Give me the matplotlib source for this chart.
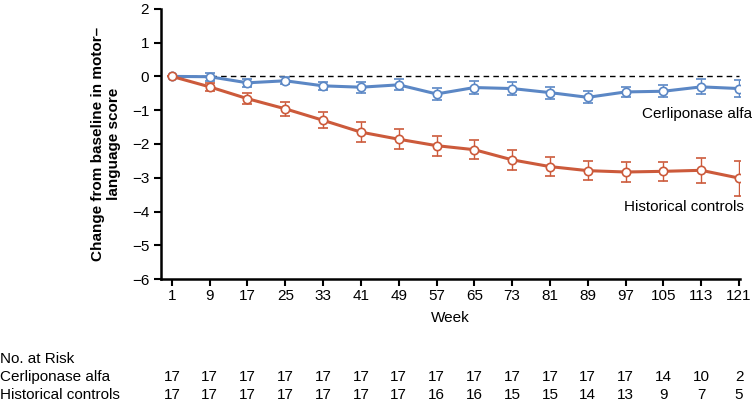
import numpy as np
import matplotlib.pyplot as plt
from matplotlib.transforms import blended_transform_factory

plt.rcParams['font.family'] = ['Liberation Sans', 'DejaVu Sans']

# data
weeks = [1, 9, 17, 25, 33, 41, 49, 57, 65, 73, 81, 89, 97, 105, 113, 121]
cerl_mean = [0, -0.01, -0.19, -0.13, -0.28, -0.32, -0.25, -0.52, -0.33, -0.36,
             -0.48, -0.62, -0.46, -0.44, -0.31, -0.36]
cerl_err = [0, 0.12, 0.11, 0.10, 0.11, 0.16, 0.16, 0.19, 0.18, 0.19,
            0.18, 0.18, 0.16, 0.18, 0.22, 0.25]
hist_mean = [0, -0.31, -0.66, -0.96, -1.30, -1.65, -1.86, -2.05, -2.17, -2.47,
             -2.67, -2.79, -2.83, -2.81, -2.78, -3.01]
hist_err = [0, 0.11, 0.16, 0.20, 0.24, 0.29, 0.30, 0.30, 0.29, 0.30,
            0.29, 0.29, 0.30, 0.28, 0.37, 0.52]
cerl_risk = [17, 17, 17, 17, 17, 17, 17, 17, 17, 17, 17, 17, 17, 14, 10, 2]
hist_risk = [17, 17, 17, 17, 17, 17, 17, 16, 16, 15, 15, 14, 13, 9, 7, 5]

blue = '#5b87c5'
red = '#cc5a3b'
fs = 11

fig = plt.figure(figsize=(7.52, 4.01), dpi=100)
ax = fig.add_axes([0.2141, 0.304, 0.984 - 0.2141, 0.978 - 0.304])

ax.plot([1, 121], [0, 0], color='black', ls=(0, (4, 3)), lw=1, zorder=1)

for mean, err, col, z in [(cerl_mean, cerl_err, blue, 2), (hist_mean, hist_err, red, 3)]:
    ax.errorbar(weeks, mean, yerr=err, color=col, lw=2.2, elinewidth=1,
                capsize=3.5, capthick=1, marker='o', ms=6, mfc='white',
                mec=col, mew=1.2, zorder=z)

ax.set_xlim(-1.3, 121.2)
ax.set_ylim(-6, 2)
ax.set_xticks(weeks)
ax.set_yticks(range(-6, 3))
ax.set_yticklabels([str(v).replace('-', '\u2212') for v in range(-6, 3)])
ax.tick_params(labelsize=fs, width=1.5, length=5, colors='black')
ax.tick_params(axis='x', pad=2)
for s in ['top', 'right']:
    ax.spines[s].set_visible(False)
for s in ['left', 'bottom']:
    ax.spines[s].set_linewidth(1.8)

ax.set_xlabel('Week', fontsize=fs, labelpad=6)
ax.set_ylabel('Change from baseline in motor\u2013\nlanguage score', fontsize=fs,
              fontweight='bold', labelpad=8)

ax.text(123.7, -1.1, 'Cerliponase alfa', ha='right', va='center', fontsize=fs)
ax.text(122.0, -3.88, 'Historical controls', ha='right', va='center', fontsize=fs)

# number at risk table
tr = blended_transform_factory(ax.transData, fig.transFigure)
fig.text(0.0, 1 - 359 / 401, 'No. at Risk', ha='left', va='center', fontsize=fs)
fig.text(0.0, 1 - 377 / 401, 'Cerliponase alfa', ha='left', va='center', fontsize=fs)
fig.text(0.0, 1 - 395 / 401, 'Historical controls', ha='left', va='center', fontsize=fs)
for w, a, b in zip(weeks, cerl_risk, hist_risk):
    ax.text(w, 1 - 377 / 401, str(a), transform=tr, ha='center', va='center', fontsize=fs)
    ax.text(w, 1 - 395 / 401, str(b), transform=tr, ha='center', va='center', fontsize=fs)

fig.savefig('out.png', dpi=100)
